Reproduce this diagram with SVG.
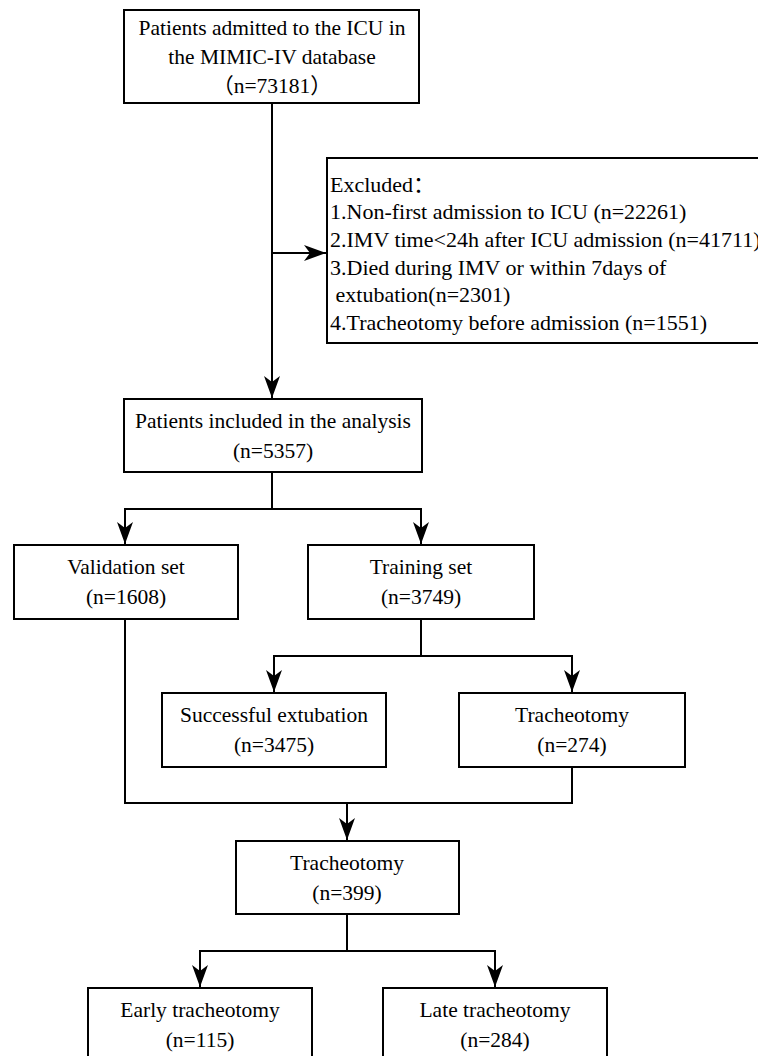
<svg xmlns="http://www.w3.org/2000/svg" width="758" height="1056" viewBox="0 0 758 1056">
<style>
.box{fill:#fff;stroke:#000;stroke-width:2}
.t{font-family:"Liberation Serif","Times New Roman",serif;font-size:21.5px;fill:#000;text-anchor:middle}
.l{font-family:"Liberation Serif","Times New Roman",serif;font-size:22px;fill:#000}
.cjk{font-family:"Noto Sans CJK SC",sans-serif}
.c{fill:none;stroke:#000;stroke-width:2}
</style>
<defs>
<marker id="ah" viewBox="0 0 22 16" refX="22" refY="8" markerWidth="22" markerHeight="16" markerUnits="userSpaceOnUse" orient="auto">
<path d="M0,0 L22,8 L0,16 L6,8 Z" fill="#000"/>
</marker>
</defs>
<rect width="758" height="1056" fill="#fff"/>
<g id="connectors">
<path class="c" d="M272,103 V398" marker-end="url(#ah)"/>
<path class="c" d="M272,253 H326" marker-end="url(#ah)"/>
<path class="c" d="M272,472 V509 H125 V544" marker-end="url(#ah)"/>
<path class="c" d="M272,509 H421 V544" marker-end="url(#ah)"/>
<path class="c" d="M421,619 V656 H274 V692" marker-end="url(#ah)"/>
<path class="c" d="M421,656 H572 V692" marker-end="url(#ah)"/>
<path class="c" d="M125,619 V803 H572 V767"/>
<path class="c" d="M347,803 V840" marker-end="url(#ah)"/>
<path class="c" d="M347,914 V951 H200 V987" marker-end="url(#ah)"/>
<path class="c" d="M347,951 H495 V987" marker-end="url(#ah)"/>
</g>
<g id="n1">
<rect class="box" x="124" y="10" width="295" height="93"/>
<text class="t" x="272" y="35">Patients admitted to the ICU in</text>
<text class="t" x="272" y="64">the MIMIC-IV database</text>
<text class="t" x="272" y="93"><tspan class="cjk">（</tspan>n=73181<tspan class="cjk">）</tspan></text>
</g>
<g id="excluded">
<rect class="box" x="327" y="158" width="450" height="185"/>
<text class="l" x="330" y="192">Excluded<tspan class="cjk">：</tspan></text>
<text class="l" x="330" y="219">1.Non-first admission to ICU (n=22261)</text>
<text class="l" x="330" y="247">2.IMV time&lt;24h after ICU admission (n=41711)</text>
<text class="l" x="330" y="275">3.Died during IMV or within 7days of</text>
<text class="l" x="330" y="302" xml:space="preserve"> extubation(n=2301)</text>
<text class="l" x="330" y="330">4.Tracheotomy before admission (n=1551)</text>
</g>
<g id="included">
<rect class="box" x="124" y="399" width="298" height="73"/>
<text class="t" x="273" y="428">Patients included in the analysis</text>
<text class="t" x="273" y="458">(n=5357)</text>
</g>
<g id="validation">
<rect class="box" x="14" y="545" width="224" height="74"/>
<text class="t" x="126" y="574">Validation set</text>
<text class="t" x="126" y="604">(n=1608)</text>
</g>
<g id="training">
<rect class="box" x="308" y="545" width="226" height="74"/>
<text class="t" x="421" y="574">Training set</text>
<text class="t" x="421" y="604">(n=3749)</text>
</g>
<g id="successful">
<rect class="box" x="162" y="693" width="224" height="74"/>
<text class="t" x="274" y="722">Successful extubation</text>
<text class="t" x="274" y="752">(n=3475)</text>
</g>
<g id="trach274">
<rect class="box" x="459" y="693" width="226" height="74"/>
<text class="t" x="572" y="722">Tracheotomy</text>
<text class="t" x="572" y="752">(n=274)</text>
</g>
<g id="trach399">
<rect class="box" x="236" y="841" width="223" height="73"/>
<text class="t" x="347" y="870">Tracheotomy</text>
<text class="t" x="347" y="900">(n=399)</text>
</g>
<g id="early">
<rect class="box" x="88" y="988" width="224" height="74"/>
<text class="t" x="200" y="1017">Early tracheotomy</text>
<text class="t" x="200" y="1047">(n=115)</text>
</g>
<g id="late">
<rect class="box" x="383" y="988" width="224" height="74"/>
<text class="t" x="495" y="1017">Late tracheotomy</text>
<text class="t" x="495" y="1047">(n=284)</text>
</g>
</svg>
